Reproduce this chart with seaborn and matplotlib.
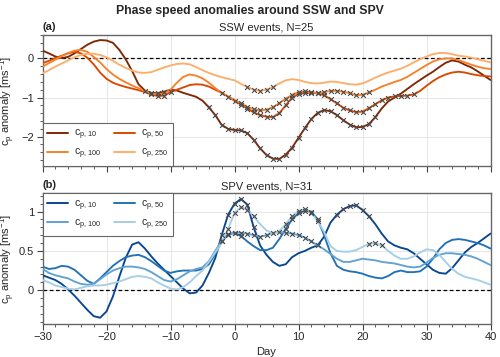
import numpy as np
import pandas as pd
import matplotlib
matplotlib.use("Agg")
import matplotlib.pyplot as plt
import seaborn as sns
from matplotlib.ticker import MultipleLocator, FuncFormatter
from matplotlib.lines import Line2D

# Days relative to the event (lag)
days = np.arange(-30, 41)

# SSW composite, phase speed anomaly (m/s), one value per day
ssw_cp10 = [0.20, 0.13, 0.05, 0.01, 0.04, 0.13, 0.24, 0.35, 0.43, 0.47,
            0.46, 0.40, 0.22, -0.02, -0.32, -0.66, -0.82, -0.88, -0.89, -0.85,
            -0.80, -0.82, -0.88, -0.93, -0.98, -1.08, -1.25, -1.45, -1.70, -1.80,
            -1.83, -1.84, -1.91, -2.08, -2.30, -2.47, -2.56, -2.57, -2.46, -2.28,
            -2.03, -1.78, -1.55, -1.39, -1.32, -1.35, -1.45, -1.58, -1.69, -1.76,
            -1.75, -1.68, -1.50, -1.28, -1.10, -1.00, -0.90, -0.78, -0.66, -0.55,
            -0.44, -0.34, -0.22, -0.11, -0.05, -0.08, -0.16, -0.23, -0.33, -0.44,
            -0.55]
ssw_cp50 = [-0.12, -0.06, 0.01, 0.07, 0.13, 0.17, 0.13, 0.02, -0.15, -0.36,
            -0.52, -0.62, -0.68, -0.73, -0.77, -0.81, -0.86, -0.92, -0.96, -0.95,
            -0.86, -0.80, -0.74, -0.68, -0.66, -0.67, -0.72, -0.80, -0.88, -0.98,
            -1.08, -1.18, -1.28, -1.38, -1.45, -1.49, -1.50, -1.40, -1.20, -1.00,
            -0.91, -0.88, -0.88, -0.89, -0.94, -1.04, -1.15, -1.26, -1.33, -1.37,
            -1.36, -1.27, -1.17, -1.07, -1.00, -0.97, -0.96, -0.95, -0.92, -0.83,
            -0.70, -0.58, -0.48, -0.41, -0.36, -0.34, -0.36, -0.40, -0.43, -0.45,
            -0.46]
ssw_cp100 = [-0.21, -0.12, -0.03, 0.06, 0.14, 0.20, 0.22, 0.17, 0.04, -0.10,
             -0.27, -0.41, -0.52, -0.61, -0.69, -0.76, -0.83, -0.90, -0.92, -0.89,
             -0.80, -0.62, -0.47, -0.41, -0.44, -0.51, -0.62, -0.76, -0.88, -0.97,
             -1.06, -1.15, -1.24, -1.30, -1.33, -1.31, -1.25, -1.14, -1.03, -0.93,
             -0.86, -0.84, -0.86, -0.89, -0.86, -0.83, -0.83, -0.85, -0.89, -0.94,
             -0.93, -0.87, -0.80, -0.72, -0.66, -0.60, -0.55, -0.47, -0.37, -0.27,
             -0.17, -0.08, -0.02, 0.00, 0.00, -0.04, -0.10, -0.16, -0.21, -0.25,
             -0.27]
ssw_cp250 = [-0.38, -0.30, -0.21, -0.13, -0.05, 0.03, 0.09, 0.12, 0.12, 0.09,
             0.03, -0.06, -0.16, -0.24, -0.31, -0.36, -0.37, -0.35, -0.29, -0.23,
             -0.18, -0.14, -0.13, -0.15, -0.22, -0.30, -0.37, -0.43, -0.48, -0.52,
             -0.56, -0.65, -0.73, -0.80, -0.83, -0.80, -0.73, -0.64, -0.56, -0.53,
             -0.55, -0.60, -0.63, -0.64, -0.62, -0.59, -0.60, -0.63, -0.66, -0.67,
             -0.64, -0.57, -0.49, -0.42, -0.36, -0.31, -0.26, -0.19, -0.10, -0.02,
             0.05, 0.11, 0.14, 0.14, 0.11, 0.07, 0.05, 0.02, -0.02, -0.06,
             -0.10]

# SPV composite
spv_cp10 = [0.19, 0.16, 0.13, 0.08, 0.01, -0.07, -0.16, -0.25, -0.33, -0.35,
            -0.27, -0.08, 0.17, 0.41, 0.58, 0.61, 0.53, 0.43, 0.34, 0.26,
            0.18, 0.10, 0.02, -0.04, -0.03, 0.06, 0.22, 0.41, 0.70, 0.96,
            1.10, 1.16, 1.09, 0.80, 0.57, 0.45, 0.36, 0.31, 0.33, 0.42,
            0.47, 0.50, 0.54, 0.57, 0.68, 0.86, 0.96, 1.03, 1.07, 1.08,
            1.02, 0.94, 0.84, 0.72, 0.62, 0.57, 0.54, 0.52, 0.47, 0.40,
            0.33, 0.26, 0.22, 0.21, 0.28, 0.38, 0.48, 0.55, 0.60, 0.66,
            0.72]
spv_cp50 = [0.30, 0.27, 0.28, 0.31, 0.30, 0.26, 0.19, 0.12, 0.08, 0.15,
            0.23, 0.31, 0.37, 0.42, 0.44, 0.45, 0.42, 0.37, 0.31, 0.25,
            0.22, 0.24, 0.25, 0.25, 0.25, 0.27, 0.33, 0.46, 0.62, 0.71,
            0.73, 0.69, 0.62, 0.56, 0.51, 0.51, 0.54, 0.65, 0.78, 0.90,
            0.98, 1.01, 1.00, 0.90, 0.70, 0.47, 0.31, 0.26, 0.24, 0.23,
            0.21, 0.18, 0.16, 0.15, 0.18, 0.23, 0.25, 0.23, 0.23, 0.24,
            0.30, 0.40, 0.52, 0.60, 0.64, 0.65, 0.64, 0.62, 0.60, 0.57,
            0.53]
spv_cp100 = [0.27, 0.22, 0.19, 0.17, 0.15, 0.11, 0.08, 0.07, 0.08, 0.14,
             0.20, 0.25, 0.28, 0.30, 0.30, 0.29, 0.27, 0.23, 0.18, 0.13,
             0.11, 0.14, 0.19, 0.24, 0.27, 0.29, 0.37, 0.50, 0.63, 0.70,
             0.73, 0.73, 0.72, 0.70, 0.68, 0.70, 0.73, 0.74, 0.73, 0.72,
             0.70, 0.67, 0.62, 0.57, 0.52, 0.46, 0.40, 0.36, 0.36, 0.38,
             0.40, 0.39, 0.38, 0.36, 0.35, 0.34, 0.32, 0.30, 0.29, 0.30,
             0.35, 0.41, 0.45, 0.47, 0.47, 0.46, 0.45, 0.43, 0.40, 0.36,
             0.32]
spv_cp250 = [0.13, 0.10, 0.06, 0.04, 0.02, 0.01, 0.03, 0.05, 0.06, 0.06,
             0.07, 0.09, 0.11, 0.14, 0.17, 0.18, 0.17, 0.15, 0.10, 0.06,
             0.02, 0.01, 0.04, 0.10, 0.18, 0.25, 0.36, 0.48, 0.60, 0.78,
             0.98, 1.06, 1.02, 0.94, 0.84, 0.76, 0.72, 0.75, 0.84, 0.94,
             1.01, 1.03, 0.98, 0.88, 0.74, 0.56, 0.50, 0.49, 0.49, 0.51,
             0.55, 0.59, 0.60, 0.57, 0.50, 0.44, 0.40, 0.40, 0.43, 0.48,
             0.52, 0.51, 0.45, 0.36, 0.27, 0.21, 0.17, 0.15, 0.13, 0.10,
             0.07]

# Significant days (inclusive ranges) marked with crosses
ssw_sig_cp10 = [(-14, -11), (-4, 22)]
ssw_sig_cp50 = [(-13, -10), (-2, 28)]
ssw_sig_cp100 = [(1, 21)]
ssw_sig_cp250 = [(2, 6)]
spv_sig_cp10 = [(-2, 3), (16, 21)]
spv_sig_cp50 = [(-2, 1), (8, 13)]
spv_sig_cp100 = [(-2, 13)]
spv_sig_cp250 = [(-1, 3), (8, 13), (21, 23)]

levels = ["10", "50", "100", "250"]
oranges = ["#7f2704", "#d94801", "#f7812a", "#fdae6b"]
blues = ["#08468f", "#2171b5", "#5fa2d3", "#a6cee6"]

sns.set_theme(style="ticks")
plt.rcParams["font.family"] = ["Liberation Sans", "DejaVu Sans"]
plt.rcParams["mathtext.fontset"] = "custom"
plt.rcParams["mathtext.rm"] = "Liberation Sans"
plt.rcParams["mathtext.it"] = "Liberation Sans"
plt.rcParams["mathtext.default"] = "regular"

num_fmt = FuncFormatter(lambda v, p: f"{v:g}".replace("-", "\u2212"))


def long_frame(series, sigs):
    """Build long-form frames of lines and significant points."""
    lines, marks = [], []
    for lev, vals, sig in zip(levels, series, sigs):
        df = pd.DataFrame({"day": days, "cp": vals, "level": lev})
        lines.append(df)
        mask = np.zeros(len(days), dtype=bool)
        for a, b in sig:
            mask |= (days >= a) & (days <= b)
        marks.append(df[mask])
    return pd.concat(lines), pd.concat(marks)


def draw_panel(ax, series, sigs, colors, letter, title, ylim, ymaj, ymin, legloc):
    lines_df, marks_df = long_frame(series, sigs)
    ax.axhline(0, color="black", ls="--", lw=0.9, dashes=(3, 2), zorder=1)
    sns.lineplot(data=lines_df, x="day", y="cp", hue="level", palette=colors,
                 hue_order=levels, lw=1.35, legend=False, ax=ax, zorder=3)
    sns.scatterplot(data=marks_df, x="day", y="cp", marker="x", color="#4a4a4a",
                    s=12, linewidth=0.8, legend=False, ax=ax, zorder=4)
    ax.set_xlim(-30, 40)
    ax.set_ylim(*ylim)
    ax.xaxis.set_major_locator(MultipleLocator(10))
    ax.xaxis.set_minor_locator(MultipleLocator(2))
    ax.yaxis.set_major_locator(MultipleLocator(ymaj))
    ax.yaxis.set_minor_locator(MultipleLocator(ymin))
    ax.xaxis.set_major_formatter(num_fmt)
    ax.yaxis.set_major_formatter(num_fmt)
    ax.grid(True, which="major", color="#e6e6e6", lw=0.7)
    ax.set_axisbelow(True)
    ax.tick_params(which="major", length=4, width=0.8, labelsize=8, pad=2, color="#444444")
    ax.tick_params(which="minor", length=2, width=0.6, color="#444444")
    for sp in ax.spines.values():
        sp.set_color("#666666")
        sp.set_linewidth(1.0)
    ax.set_ylabel(r"c$_p$ anomaly [ms$^{-1}$]", fontsize=8)
    ax.yaxis.set_label_coords(-0.056, 0.5)
    ax.set_xlabel("")
    ax.set_title(title, fontsize=8, pad=3)
    ax.text(0.0, 1.025, letter, transform=ax.transAxes, fontsize=8,
            fontweight="bold", ha="left", va="bottom")
    # row-wise legend order: 10, 50 / 100, 250
    order = [0, 2, 1, 3]
    handles = [Line2D([], [], color=colors[i], lw=1.4) for i in order]
    labels = [r"c$_{p,\,%s}$" % levels[i] for i in order]
    leg = ax.legend(handles, labels, loc=legloc, ncol=2, fontsize=7.5,
                    frameon=True, fancybox=False, framealpha=1.0,
                    edgecolor="#666666", borderaxespad=0, handlelength=2.0,
                    columnspacing=1.2, borderpad=0.45, labelspacing=0.45,
                    handletextpad=0.6)
    leg.get_frame().set_linewidth(0.8)


fig = plt.figure(figsize=(5.0, 3.57), dpi=100)
ax_a = fig.add_axes([0.085, 0.535, 0.896, 0.367])
ax_b = fig.add_axes([0.085, 0.0924, 0.896, 0.3656])

draw_panel(ax_a, [ssw_cp10, ssw_cp50, ssw_cp100, ssw_cp250],
           [ssw_sig_cp10, ssw_sig_cp50, ssw_sig_cp100, ssw_sig_cp250],
           oranges, "(a)", "SSW events, N=25", (-2.75, 0.6), 1, 0.2, "lower left")
draw_panel(ax_b, [spv_cp10, spv_cp50, spv_cp100, spv_cp250],
           [spv_sig_cp10, spv_sig_cp50, spv_sig_cp100, spv_sig_cp250],
           blues, "(b)", "SPV events, N=31", (-0.43, 1.23), 0.5, 0.1, "upper left")

ax_a.tick_params(axis="x", labelbottom=False)
ax_b.set_xlabel("Day", fontsize=8, labelpad=3)
fig.suptitle("Phase speed anomalies around SSW and SPV", fontsize=8.8,
             fontweight="bold", y=0.985)

fig.savefig("out.png", dpi=100)
